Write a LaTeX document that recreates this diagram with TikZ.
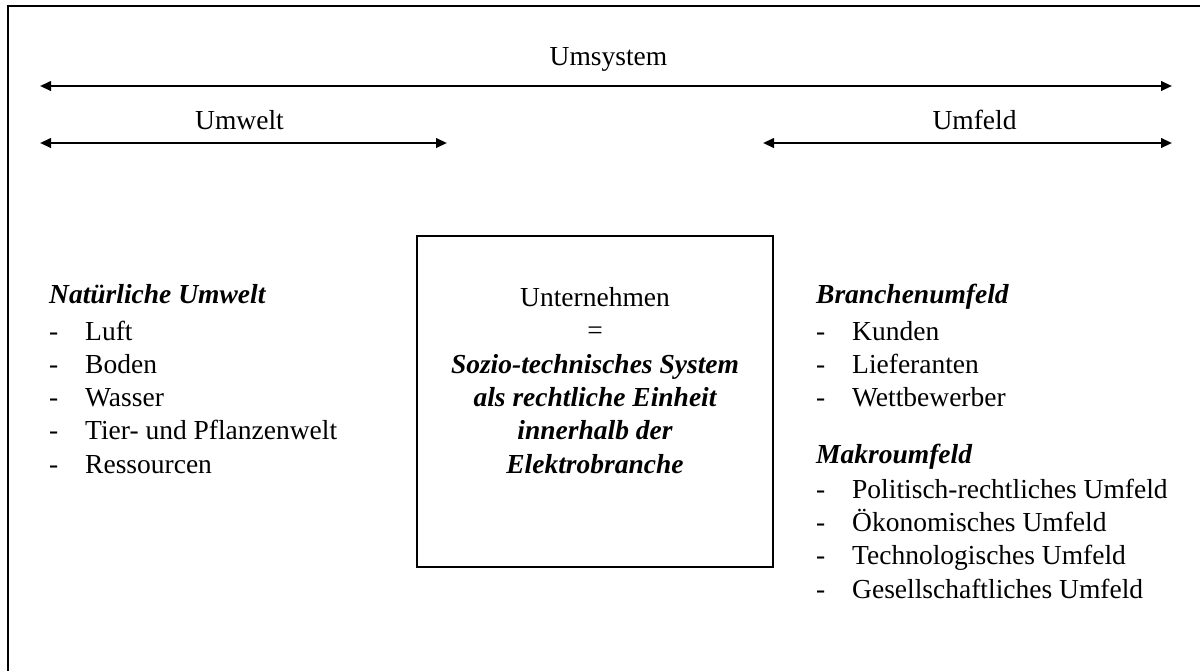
\documentclass[tikz,border=0pt]{standalone}
\usepackage{fontspec}
\setmainfont{Liberation Serif}
\usetikzlibrary{arrows.meta}
\begin{document}
\begin{tikzpicture}[x=1pt,y=-1pt,
  txt/.style={inner sep=0pt, font=\fontsize{27.5}{33.3}\selectfont},
  ctr/.style={txt, anchor=base},
  lft/.style={txt, anchor=base west},
  head/.style={lft, font=\fontsize{27.5}{33.3}\selectfont\bfseries\itshape},
  emph/.style={ctr, font=\fontsize{27.5}{33.3}\selectfont\bfseries\itshape},
  rangearrow/.style={line width=2.3pt,
    {Triangle[length=11pt,width=9.5pt]}-{Triangle[length=11pt,width=9.5pt]}},
  frame/.style={line width=2pt},
  firmbox/.style={draw, line width=1.6pt, inner sep=0pt,
    minimum width=356pt, minimum height=331pt}]

\useasboundingbox (0,0) rectangle (1200,670);

% outer frame (open towards the right and bottom edges)
\draw[frame] (8,680) -- (8,6) -- (1210,6);

% ranges of the surrounding system
\coordinate (sysL) at (40,86);
\coordinate (sysR) at (1172,86);
\coordinate (envL) at (40,143);
\coordinate (envR) at (447,143);
\coordinate (fldL) at (763,143);
\coordinate (fldR) at (1172,143);
\draw[rangearrow] (sysL) -- (sysR);
\draw[rangearrow] (envL) -- (envR);
\draw[rangearrow] (fldL) -- (fldR);
\node[ctr] (umsystem) at (608.5,65) {Umsystem};
\node[ctr] (umwelt) at (239.5,129) {Umwelt};
\node[ctr] (umfeld) at (974.5,129) {Umfeld};

% the company in the centre
\node[firmbox] (firm) at (595,401.5) {};
\node[ctr] (c1) at (595,306) {Unternehmen};
\node[ctr] (c2) at (595,339.5) {=};
\node[emph] (c3) at (595,373) {Sozio-technisches System};
\node[emph] (c4) at (595,406.3) {als rechtliche Einheit};
\node[emph] (c5) at (595,439.6) {innerhalb der};
\node[emph] (c6) at (595,473) {Elektrobranche};

% natural environment
\node[head] (natur) at (49,303) {Natürliche Umwelt};
\foreach \t [count=\i] in {Luft,Boden,Wasser,Tier- und Pflanzenwelt,Ressourcen}{
  \node[lft] (nd\i) at (49,{306.7+33.3*\i}) {-};
  \node[lft] (nt\i) at (85,{306.7+33.3*\i}) {\t};
}

% industry environment
\node[head] (branche) at (816,303) {Branchenumfeld};
\foreach \t [count=\i] in {Kunden,Lieferanten,Wettbewerber}{
  \node[lft] (bd\i) at (816,{306.7+33.3*\i}) {-};
  \node[lft] (bt\i) at (852,{306.7+33.3*\i}) {\t};
}

% macro environment
\node[head] (makro) at (816,463) {Makroumfeld};
\foreach \t [count=\i] in {Politisch-rechtliches Umfeld,Ökonomisches Umfeld,Technologisches Umfeld,Gesellschaftliches Umfeld}{
  \node[lft] (md\i) at (816,{465+33.3*\i}) {-};
  \node[lft] (mt\i) at (852,{465+33.3*\i}) {\t};
}
\end{tikzpicture}
\end{document}
